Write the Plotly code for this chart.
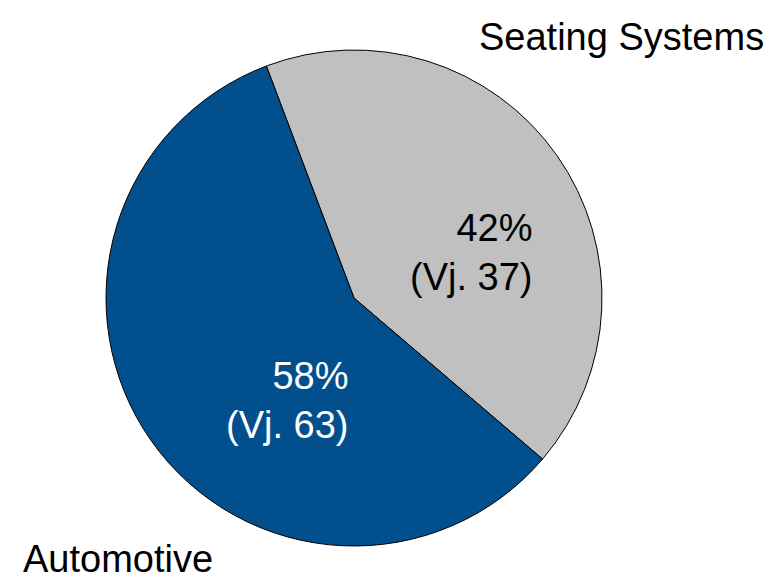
import plotly.graph_objects as go

segments = ["Seating Systems", "Automotive"]
shares = [42, 58]
prev_year = [37, 63]

colors = ["#c0c0c0", "#024f8e"]
text_colors = ["#000000", "#ffffff"]

W, H = 773, 581


def px(x):
    return x / W


def py(y):
    return 1 - y / H


fig = go.Figure()
fig.add_trace(go.Pie(
    labels=segments,
    values=shares,
    sort=False,
    direction="clockwise",
    rotation=-20.7,
    marker=dict(colors=colors, line=dict(color="#000000", width=1)),
    textinfo="none",
    hoverinfo="label+percent",
    showlegend=False,
    domain=dict(x=[px(106), px(602)], y=[py(546), py(50)]),
))

font = dict(family="Liberation Sans, Arial, sans-serif", size=38)

# inner labels
inner_pos = [(534, 252), (350, 400)]
for i, (x, y) in enumerate(inner_pos):
    fig.add_annotation(
        x=px(x), y=py(y), xref="paper", yref="paper",
        xanchor="right", yanchor="middle", align="right",
        text=f"{shares[i]}%<br>(Vj. {prev_year[i]})",
        showarrow=False,
        font=dict(font, color=text_colors[i]),
    )

# outer segment names
fig.add_annotation(
    x=px(766), y=py(37), xref="paper", yref="paper",
    xanchor="right", yanchor="middle",
    text=segments[0], showarrow=False, font=dict(font, color="#000000"),
)
fig.add_annotation(
    x=px(22), y=0, xref="paper", yref="paper",
    xanchor="left", yanchor="bottom", borderpad=0,
    text=segments[1], showarrow=False, font=dict(font, color="#000000"),
)

fig.update_layout(
    width=W, height=H,
    margin=dict(l=0, r=0, t=0, b=0),
    paper_bgcolor="#ffffff",
    plot_bgcolor="#ffffff",
)

fig.write_html(
    "out.html",
    config={"displayModeBar": False},
    post_script="document.body.style.margin='0';",
)
